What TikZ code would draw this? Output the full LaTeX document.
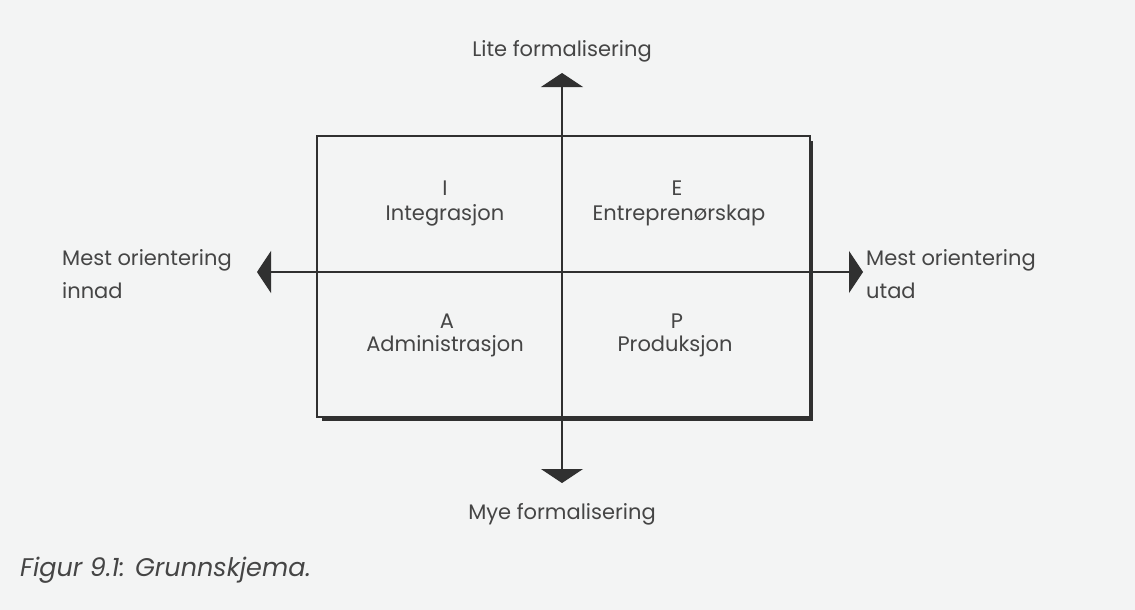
\documentclass[tikz,border=0pt]{standalone}
\usepackage{fontspec}
\setmainfont{Poppins}
\usetikzlibrary{arrows.meta}
\definecolor{paper}{HTML}{F3F4F4}
\definecolor{ink}{HTML}{303030}
\definecolor{txt}{HTML}{454545}
\tikzset{
  axis/.style={draw=ink, line width=1.1pt, -{Triangle[length=14pt,width=42pt]}},
  lbl/.style={text=txt, font=\fontsize{21}{24}\selectfont, inner sep=0pt},
  quad/.style={lbl, align=center, anchor=base},
  side/.style={lbl, align=left, anchor=base west},
}
\begin{document}
\begin{tikzpicture}[x=1pt,y=-1pt]
\fill[paper] (0,0) rectangle (1135,610);
\useasboundingbox (0,0) rectangle (1135,610);
% box
\coordinate (tl) at (317,136);
\coordinate (br) at (810,417);
\draw[ink, line width=1.2pt] (tl) rectangle (br);
\draw[ink, line width=4.5pt] (811,141) -- (811,418.5) -- (322,418.5);
% axes
\coordinate (c) at (562,272);
\coordinate (tU) at (562,73);
\coordinate (tD) at (562,483);
\coordinate (tL) at (257,272);
\coordinate (tR) at (863,272);
\draw[axis] (c) -- (tU);
\draw[axis] (c) -- (tD);
\draw[axis] (c) -- (tL);
\draw[axis] (c) -- (tR);
% axis labels
\node[lbl, anchor=base] (top) at (562,57) {Lite formalisering};
\node[lbl, anchor=base] (bot) at (562,519) {Mye formalisering};
\node[side] (left) at (62,265) {Mest orientering};
\node[side] (left2) at (62,298) {innad};
\node[side] (right) at (866,265) {Mest orientering};
\node[side] (right2) at (866,298) {utad};
% quadrants
\node[quad] (qI) at (445,195) {I};
\node[quad] (qIw) at (445,220) {Integrasjon};
\node[quad] (qE) at (677,195) {E};
\node[quad] (qEw) at (679,220) {Entreprenørskap};
\node[quad] (qA) at (447,328) {A};
\node[quad] (qAw) at (445,351) {Administrasjon};
\node[quad] (qP) at (677,328) {P};
\node[quad] (qPw) at (675,351) {Produksjon};
% caption
\node[text=txt, font=\fontsize{25.5}{30}\selectfont\itshape, anchor=base west, inner sep=0pt] (cap) at (20,576) {Figur 9.1: Grunnskjema.};
\end{tikzpicture}
\end{document}
